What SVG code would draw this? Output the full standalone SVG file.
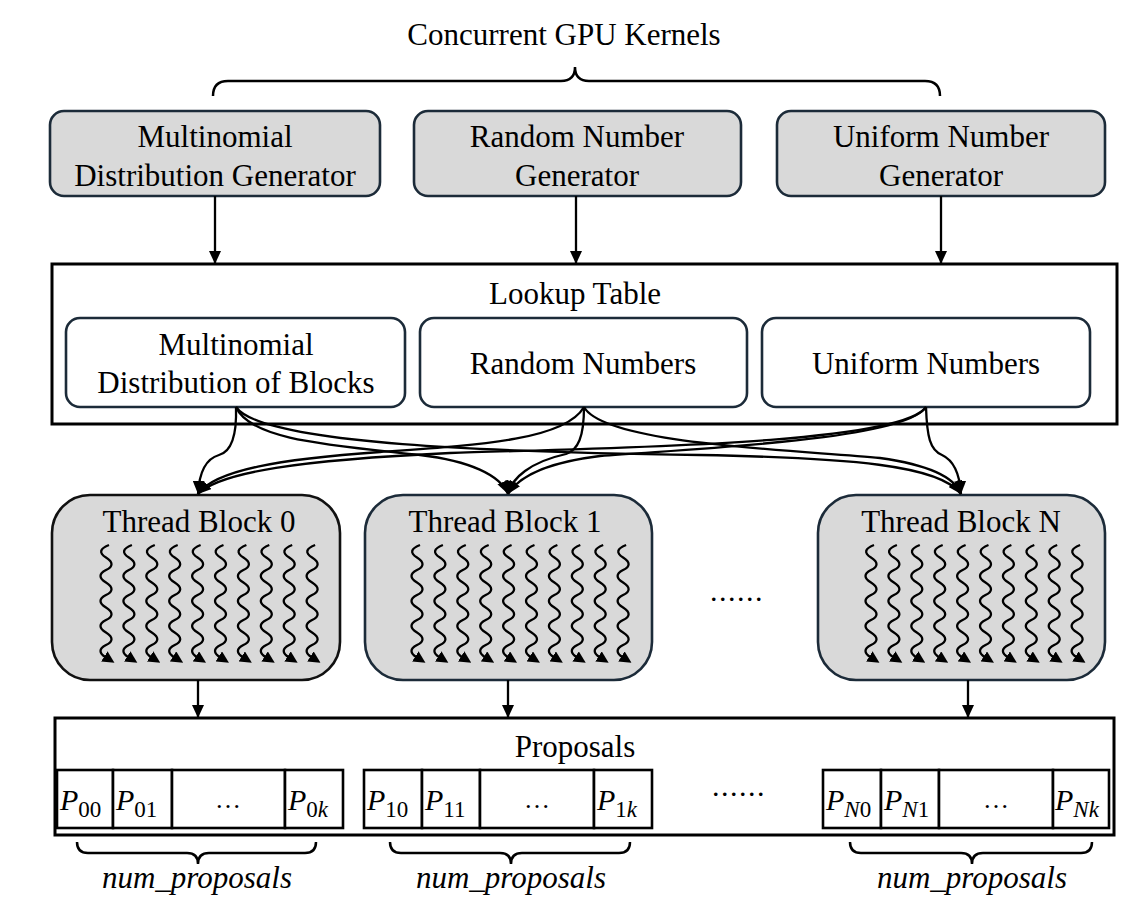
<svg xmlns="http://www.w3.org/2000/svg" xmlns:xlink="http://www.w3.org/1999/xlink" width="1134" height="914" viewBox="0 0 1134 914">
<style>
text{font-family:"Liberation Serif","Times New Roman",serif;fill:#000}
.t{font-size:31px;text-anchor:middle}
.it{font-style:italic}
.gbox{fill:#d9d9d9;stroke:#1c2b39;stroke-width:2.6}
.wbox{fill:#fff;stroke:#1c2b39;stroke-width:2.6}
.frame{fill:#fff;stroke:#000;stroke-width:3}
.cell{fill:#fff;stroke:#000;stroke-width:2.6}
.con{fill:none;stroke:#000;stroke-width:2.3}
.brace{fill:none;stroke:#000;stroke-width:2.5}
.wv{fill:none;stroke:#000;stroke-width:2.3}
.p{font-size:30px;font-style:italic}
.sub{font-size:23px}
.dots{font-size:30px;text-anchor:middle;letter-spacing:1.5px}
</style>
<defs>
<marker id="ah" markerUnits="userSpaceOnUse" markerWidth="13" markerHeight="12" refX="13" refY="6" orient="auto"><path d="M0,0 L13,6 L0,12 z" fill="#000"/></marker>
<marker id="wa" markerUnits="userSpaceOnUse" markerWidth="12" markerHeight="12" refX="2" refY="6" orient="auto"><path d="M0,0 L12,6 L0,12 z" fill="#000"/></marker>
<g id="threads">
<path class="wv" marker-end="url(#wa)" d="M3,0 q-14,5.5 -3,12.5 t0,12.5 t0,12.5 t0,12.5 t0,12.5 t0,12.5 t0,12.5 t0,12.5 t0,12.5"/>
<path class="wv" marker-end="url(#wa)" d="M25.9,0 q-14,5.5 -3,12.5 t0,12.5 t0,12.5 t0,12.5 t0,12.5 t0,12.5 t0,12.5 t0,12.5 t0,12.5"/>
<path class="wv" marker-end="url(#wa)" d="M48.8,0 q-14,5.5 -3,12.5 t0,12.5 t0,12.5 t0,12.5 t0,12.5 t0,12.5 t0,12.5 t0,12.5 t0,12.5"/>
<path class="wv" marker-end="url(#wa)" d="M71.7,0 q-14,5.5 -3,12.5 t0,12.5 t0,12.5 t0,12.5 t0,12.5 t0,12.5 t0,12.5 t0,12.5 t0,12.5"/>
<path class="wv" marker-end="url(#wa)" d="M94.6,0 q-14,5.5 -3,12.5 t0,12.5 t0,12.5 t0,12.5 t0,12.5 t0,12.5 t0,12.5 t0,12.5 t0,12.5"/>
<path class="wv" marker-end="url(#wa)" d="M117.5,0 q-14,5.5 -3,12.5 t0,12.5 t0,12.5 t0,12.5 t0,12.5 t0,12.5 t0,12.5 t0,12.5 t0,12.5"/>
<path class="wv" marker-end="url(#wa)" d="M140.4,0 q-14,5.5 -3,12.5 t0,12.5 t0,12.5 t0,12.5 t0,12.5 t0,12.5 t0,12.5 t0,12.5 t0,12.5"/>
<path class="wv" marker-end="url(#wa)" d="M163.3,0 q-14,5.5 -3,12.5 t0,12.5 t0,12.5 t0,12.5 t0,12.5 t0,12.5 t0,12.5 t0,12.5 t0,12.5"/>
<path class="wv" marker-end="url(#wa)" d="M186.2,0 q-14,5.5 -3,12.5 t0,12.5 t0,12.5 t0,12.5 t0,12.5 t0,12.5 t0,12.5 t0,12.5 t0,12.5"/>
<path class="wv" marker-end="url(#wa)" d="M209.1,0 q-14,5.5 -3,12.5 t0,12.5 t0,12.5 t0,12.5 t0,12.5 t0,12.5 t0,12.5 t0,12.5 t0,12.5"/>
</g>
</defs>

<rect width="1134" height="914" fill="#fff"/>

<g id="title">
<text class="t" x="564" y="45">Concurrent GPU Kernels</text>
<path class="brace" d="M213,96 Q213,81 228,81 L561,81 Q575,81 575,67 Q575,81 589,81 L925,81 Q940,81 940,96"/>
</g>

<g id="mdg">
<rect class="gbox" x="50" y="111" width="330" height="85" rx="14"/>
<text class="t" x="215" y="147">Multinomial</text>
<text class="t" x="215" y="186">Distribution Generator</text>
</g>
<g id="rng">
<rect class="gbox" x="414" y="111" width="327" height="85" rx="14"/>
<text class="t" x="577" y="147">Random Number</text>
<text class="t" x="577" y="186">Generator</text>
</g>
<g id="ung">
<rect class="gbox" x="777" y="111" width="328" height="85" rx="14"/>
<text class="t" x="941" y="147">Uniform Number</text>
<text class="t" x="941" y="186">Generator</text>
</g>

<g id="lookup">
<rect class="frame" x="52" y="264" width="1065" height="160"/>
<text class="t" x="575" y="304">Lookup Table</text>
</g>
<g id="mdb">
<rect class="wbox" x="66" y="318" width="339" height="89" rx="14"/>
<text class="t" x="236" y="355">Multinomial</text>
<text class="t" x="236" y="393">Distribution of Blocks</text>
</g>
<g id="rn">
<rect class="wbox" x="420" y="318" width="327" height="89" rx="14"/>
<text class="t" x="583" y="374">Random Numbers</text>
</g>
<g id="un">
<rect class="wbox" x="762" y="318" width="328" height="89" rx="14"/>
<text class="t" x="926" y="374">Uniform Numbers</text>
</g>

<g id="tb0">
<rect class="gbox" style="stroke:#111" x="52" y="495" width="288" height="185" rx="38"/>
<text class="t" x="199" y="532">Thread Block 0</text>
<use href="#threads" x="106" y="545"/>
</g>
<g id="tb1">
<rect class="gbox" x="365" y="495" width="287" height="185" rx="38"/>
<text class="t" x="505" y="532">Thread Block 1</text>
<use href="#threads" x="417" y="545"/>
</g>
<text class="dots" x="737" y="601">......</text>
<g id="tbn">
<rect class="gbox" x="818" y="495" width="287" height="185" rx="38"/>
<text class="t" x="961" y="532">Thread Block N</text>
<use href="#threads" x="871" y="545"/>
</g>

<g id="proposals">
<rect class="frame" x="55" y="718" width="1059" height="117"/>
<text class="t" x="575" y="757">Proposals</text>
<g id="grp0">
<rect class="cell" x="57" y="770" width="56" height="58"/>
<rect class="cell" x="113" y="770" width="59" height="58"/>
<rect class="cell" x="172" y="770" width="113" height="58"/>
<rect class="cell" x="285" y="770" width="58" height="58"/>
<text x="60" y="810"><tspan class="p">P</tspan><tspan class="sub" dy="7">00</tspan></text>
<text x="116" y="810"><tspan class="p">P</tspan><tspan class="sub" dy="7">01</tspan></text>
<text x="228" y="808" style="font-size:26px;text-anchor:middle">…</text>
<text x="288" y="810"><tspan class="p">P</tspan><tspan class="sub" dy="7">0<tspan class="it">k</tspan></tspan></text>
</g>
<g id="grp1">
<rect class="cell" x="364" y="770" width="58" height="58"/>
<rect class="cell" x="422" y="770" width="58" height="58"/>
<rect class="cell" x="480" y="770" width="114" height="58"/>
<rect class="cell" x="594" y="770" width="58" height="58"/>
<text x="367" y="810"><tspan class="p">P</tspan><tspan class="sub" dy="7">10</tspan></text>
<text x="425" y="810"><tspan class="p">P</tspan><tspan class="sub" dy="7">11</tspan></text>
<text x="537" y="808" style="font-size:26px;text-anchor:middle">…</text>
<text x="597" y="810"><tspan class="p">P</tspan><tspan class="sub" dy="7">1<tspan class="it">k</tspan></tspan></text>
</g>
<text class="dots" x="739" y="796">......</text>
<g id="grpN">
<rect class="cell" x="823" y="770" width="58" height="58"/>
<rect class="cell" x="881" y="770" width="58" height="58"/>
<rect class="cell" x="939" y="770" width="114" height="58"/>
<rect class="cell" x="1053" y="770" width="56" height="58"/>
<text x="826" y="810"><tspan class="p">P</tspan><tspan class="sub it" dy="7">N</tspan><tspan class="sub">0</tspan></text>
<text x="884" y="810"><tspan class="p">P</tspan><tspan class="sub it" dy="7">N</tspan><tspan class="sub">1</tspan></text>
<text x="996" y="808" style="font-size:26px;text-anchor:middle">…</text>
<text x="1055" y="810"><tspan class="p">P</tspan><tspan class="sub it" dy="7">Nk</tspan></text>
</g>
</g>

<g id="braces">
<path class="brace" d="M77,842 Q77,853 88,853 L187,853 Q198,853 198,864 Q198,853 209,853 L305,853 Q316,853 316,842"/>
<text class="t it" x="197" y="888">num_proposals</text>
<path class="brace" d="M390,842 Q390,853 401,853 L500,853 Q511,853 511,864 Q511,853 522,853 L619,853 Q630,853 630,842"/>
<text class="t it" x="511" y="888">num_proposals</text>
<path class="brace" d="M850,842 Q850,853 861,853 L961,853 Q972,853 972,864 Q972,853 983,853 L1081,853 Q1092,853 1092,842"/>
<text class="t it" x="972" y="888">num_proposals</text>
</g>

<g id="connectors">
<path class="con" marker-end="url(#ah)" d="M215,196 L215,264"/>
<path class="con" marker-end="url(#ah)" d="M576,196 L576,264"/>
<path class="con" marker-end="url(#ah)" d="M941,196 L941,264"/>
<path class="con" marker-end="url(#ah)" d="M236,407 C237,438 230,452 219,455 C205,459 199,475 198,494"/>
<path class="con" marker-end="url(#ah)" d="M236,407 C250,440 330,445 420,455 C470,461 500,475 508,494"/>
<path class="con" marker-end="url(#ah)" d="M236,407 C262,445 500,452 700,455 C850,458 940,465 961,494"/>
<path class="con" marker-end="url(#ah)" d="M584,407 C565,440 480,445 380,452 C280,459 215,470 198,494"/>
<path class="con" marker-end="url(#ah)" d="M584,407 C584,437 578,450 566,454 C530,462 512,478 508,494"/>
<path class="con" marker-end="url(#ah)" d="M584,407 C605,445 800,450 880,458 C930,465 955,478 961,494"/>
<path class="con" marker-end="url(#ah)" d="M926,407 C900,445 600,448 450,453 C300,460 220,472 198,494"/>
<path class="con" marker-end="url(#ah)" d="M926,407 C905,440 700,448 600,456 C550,462 520,475 508,494"/>
<path class="con" marker-end="url(#ah)" d="M926,407 C927,437 930,450 942,455 C955,461 960,478 961,494"/>
<path class="con" marker-end="url(#ah)" d="M198,680 L198,718"/>
<path class="con" marker-end="url(#ah)" d="M508,680 L508,718"/>
<path class="con" marker-end="url(#ah)" d="M968,680 L968,718"/>
</g>
</svg>
